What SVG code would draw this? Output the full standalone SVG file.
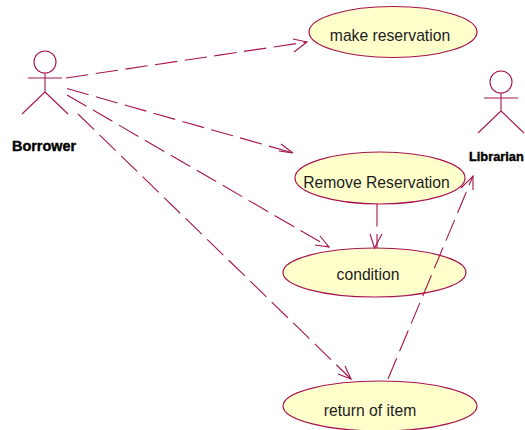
<svg xmlns="http://www.w3.org/2000/svg" width="525" height="430" viewBox="0 0 525 430">
<style>
.u{fill:#ffffcc;stroke:#a5144e;stroke-width:1.2}
.a{fill:none;stroke:#a5144e;stroke-width:1.1}
.c{fill:none;stroke:#a5144e;stroke-width:1.1;stroke-dasharray:22.5 7.5}
.h{fill:none;stroke:#a5144e;stroke-width:1.1}
.t{font-family:"Liberation Sans",Arial,sans-serif;font-size:15.7px;fill:#1c1c1c;text-anchor:middle}
.l{font-family:"Liberation Sans",Arial,sans-serif;font-size:15px;font-weight:bold;fill:#000;stroke:#000;stroke-width:.4}
</style>
<rect width="525" height="430" fill="#fff"/>
<g id="uc-make"><ellipse class="u" cx="393" cy="32" rx="84" ry="25.5"/><text class="t" x="390" y="41">make reservation</text></g>
<g id="uc-remove"><ellipse class="u" cx="380" cy="178" rx="85" ry="26"/><text class="t" x="376.500" y="188">Remove Reservation</text></g>
<g id="uc-condition"><ellipse class="u" cx="374.500" cy="272.500" rx="91.500" ry="24.500"/><text class="t" x="368" y="280">condition</text></g>
<g id="uc-return"><ellipse class="u" cx="380" cy="406" rx="97" ry="25"/><text class="t" x="370" y="416">return of item</text></g>
<g id="actor-borrower"><circle class="a" cx="45" cy="62" r="11"/><path class="a" d="M28 78H62M45 73V92L22 114M45 92L68 114"/><text class="l" x="12" y="151" textLength="64" lengthAdjust="spacingAndGlyphs">Borrower</text></g>
<g id="actor-librarian"><circle class="a" cx="501" cy="82" r="11"/><path class="a" d="M484 98H518M501 93V111L478 133M501 111L524 133"/><text class="l" x="469" y="161" style="font-size:12.8px">Librarian</text></g>
<g id="connectors">
<path class="c" d="M66 78L307 42"/><path class="h" d="M293 39L307 42L294 52"/>
<path class="c" d="M67 88.500L293 153"/><path class="h" d="M281 144L293 153L279 151"/>
<path class="c" d="M67 95L329 247"/><path class="h" d="M320 236L329 247L315 245"/>
<path class="c" d="M78 114L351 379"/><path class="h" d="M345 366L351 379L338 374"/>
<path class="c" d="M377 204V248"/><path class="h" d="M370 234L374.500 248L382 234"/>
<path class="c" d="M388 379L473 176"/><path class="h" d="M461 188L473 176L473 190"/>
</g>
</svg>
